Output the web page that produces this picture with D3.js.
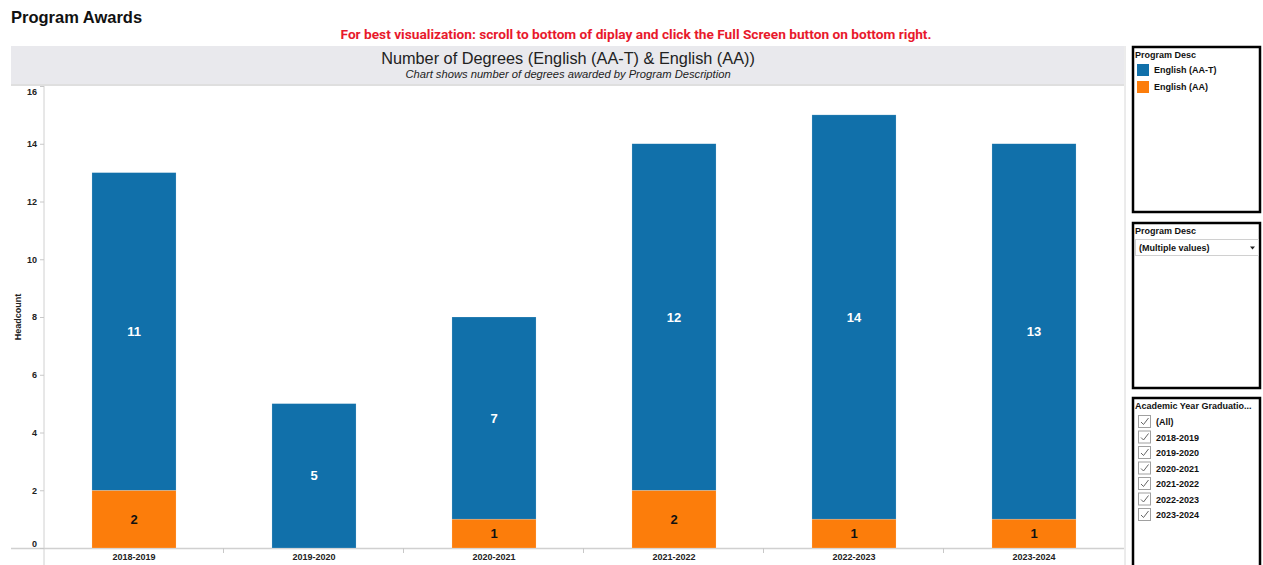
<!DOCTYPE html>
<html>
<head>
<meta charset="utf-8">
<script src="https://cdn.jsdelivr.net/npm/d3@7"></script>
<style>
  body { margin: 0; background: #fff; font-family: "Liberation Sans", Arial, sans-serif; }
  svg text { font-family: "Liberation Sans", Arial, sans-serif; }
</style>
</head>
<body>
<div id="chart"></div>
<script>
// Data
//////////////////////////////////////////////////////////////////////
const years = ["2018-2019", "2019-2020", "2020-2021", "2021-2022", "2022-2023", "2023-2024"];
const englishAAT = [11, 5, 7, 12, 14, 13];   // English (AA-T)
const englishAA = [2, 0, 1, 2, 1, 1];        // English (AA)
const seriesNames = ["English (AA-T)", "English (AA)"];
const seriesColors = ["#1170aa", "#fc7d0b"];
const yTicks = [0, 2, 4, 6, 8, 10, 12, 14, 16];
const filterItems = ["(All)"].concat(years);

// Variables
//////////////////////////////////////////////////////////////////////
const width = 1263, height = 565;
const plot = { left: 44, right: 1124, top: 86, bottom: 548 };

const svg = d3.select("#chart").append("svg")
  .attr("width", width)
  .attr("height", height);

// Header texts
svg.append("text")
  .attr("x", 11).attr("y", 23)
  .attr("font-size", 16.5).attr("font-weight", "bold").attr("fill", "#111")
  .text("Program Awards");

svg.append("text")
  .attr("x", 636).attr("y", 39)
  .attr("text-anchor", "middle")
  .attr("font-size", 13.7).attr("font-weight", "bold").attr("fill", "#e8192c")
  .style("font-family", "Roboto, sans-serif")
  .text("For best visualization: scroll to bottom of diplay and click the Full Screen button on bottom right.");

// Title band
svg.append("rect")
  .attr("x", 11).attr("y", 46).attr("width", plot.right - 11).attr("height", 38)
  .attr("fill", "#e9e9ed");
svg.append("line")
  .attr("x1", 11).attr("x2", plot.right).attr("y1", 85).attr("y2", 85)
  .attr("stroke", "#d4d4d4").attr("stroke-width", 1.5);
svg.append("text")
  .attr("x", 568).attr("y", 64)
  .attr("text-anchor", "middle").attr("font-size", 16.3).attr("fill", "#222")
  .text("Number of Degrees (English (AA-T) & English (AA))");
svg.append("text")
  .attr("x", 568).attr("y", 78)
  .attr("text-anchor", "middle").attr("font-size", 11.2).attr("font-style", "italic").attr("fill", "#222")
  .text("Chart shows number of degrees awarded by Program Description");

// Scales
//////////////////////////////////////////////////////////////////////
const x = d3.scaleBand()
  .domain(years)
  .range([plot.left, plot.right])
  .paddingInner(0.533)
  .paddingOuter(0.2665);

const y = d3.scaleLinear()
  .domain([0, 16])
  .range([plot.bottom, plot.top]);

const table = years.map((yr, i) => ({ year: yr, "English (AA-T)": englishAAT[i], "English (AA)": englishAA[i] }));
const stacked = d3.stack().keys(["English (AA)", "English (AA-T)"])(table);
const color = d3.scaleOrdinal(seriesNames, seriesColors);

// Axes lines
//////////////////////////////////////////////////////////////////////
svg.append("line")
  .attr("x1", plot.left).attr("x2", plot.left).attr("y1", plot.top).attr("y2", height)
  .attr("stroke", "#d0d0d0");
svg.append("line")
  .attr("x1", 11).attr("x2", plot.right).attr("y1", plot.bottom + 0.5).attr("y2", plot.bottom + 0.5)
  .attr("stroke", "#d0d0d0").attr("stroke-width", 1.5);
svg.append("line")
  .attr("x1", plot.right + 1).attr("x2", plot.right + 1).attr("y1", 46).attr("y2", height)
  .attr("stroke", "#d8d8d8");

// Y axis
const yAxis = svg.append("g")
  .attr("transform", `translate(${plot.left},0)`)
  .call(d3.axisLeft(y).tickValues(yTicks).tickSize(4).tickFormat(d3.format("d")));
yAxis.select(".domain").remove();
yAxis.selectAll(".tick line").attr("stroke", "#c8c8c8");
yAxis.selectAll(".tick text")
  .attr("x", -7)
  .attr("font-size", 9).attr("font-weight", "bold").attr("fill", "#222")
  .attr("font-family", "Liberation Sans, Arial, sans-serif")
  .attr("dy", d => d === 16 ? "0.95em" : d === 0 ? "-0.2em" : "0.32em");

svg.append("text")
  .attr("transform", `translate(21,${(plot.top + plot.bottom) / 2}) rotate(-90)`)
  .attr("text-anchor", "middle").attr("font-size", 9).attr("font-weight", "bold").attr("fill", "#222")
  .text("Headcount");

// X axis
const xAxis = svg.append("g")
  .attr("transform", `translate(0,${plot.bottom})`)
  .call(d3.axisBottom(x).tickSize(0));
xAxis.select(".domain").remove();
xAxis.selectAll(".tick text")
  .attr("y", 5).attr("dy", "0.75em")
  .attr("font-size", 9).attr("font-weight", "bold").attr("fill", "#222")
  .attr("font-family", "Liberation Sans, Arial, sans-serif");
// band separators
svg.append("g")
  .selectAll("line")
  .data(years.slice(1))
  .join("line")
  .attr("x1", d => x(d) - x.step() * x.paddingInner() / 2 - 0.5)
  .attr("x2", d => x(d) - x.step() * x.paddingInner() / 2 - 0.5)
  .attr("y1", plot.bottom).attr("y2", plot.bottom + 5)
  .attr("stroke", "#c8c8c8");

// Bars
//////////////////////////////////////////////////////////////////////
const layers = svg.append("g")
  .selectAll("g")
  .data(stacked)
  .join("g")
  .attr("fill", d => color(d.key));

layers.selectAll("rect")
  .data(d => d.map(v => Object.assign(v, { key: d.key })))
  .join("rect")
  .attr("x", d => x(d.data.year))
  .attr("width", x.bandwidth())
  .attr("y", d => y(d[1]))
  .attr("height", d => y(d[0]) - y(d[1]))
  .attr("stroke", "#fff").attr("stroke-opacity", 0.35).attr("stroke-width", 0.5);

// Bar labels
layers.selectAll("text")
  .data(d => d.filter(v => v[1] - v[0] > 0))
  .join("text")
  .attr("x", d => x(d.data.year) + x.bandwidth() / 2)
  .attr("y", d => y((d[0] + d[1]) / 2))
  .attr("dy", "0.36em")
  .attr("text-anchor", "middle")
  .attr("font-size", 13).attr("font-weight", "bold")
  .attr("fill", d => d.key === "English (AA-T)" ? "#fff" : "#111")
  .text(d => d[1] - d[0]);

// Right side panels
//////////////////////////////////////////////////////////////////////
function panel(y0, y1, title) {
  const g = svg.append("g");
  g.append("rect")
    .attr("x", 1133).attr("y", y0).attr("width", 127).attr("height", y1 - y0)
    .attr("fill", "#fff").attr("stroke", "#000").attr("stroke-width", 2.5);
  g.append("text")
    .attr("x", 1135).attr("y", y0 + 11)
    .attr("font-size", 9).attr("font-weight", "bold").attr("fill", "#111")
    .text(title);
  return g;
}

// Legend
const legend = panel(47, 212, "Program Desc");
legend.selectAll("g")
  .data(seriesNames)
  .join("g")
  .attr("transform", (d, i) => `translate(1137,${64 + i * 17})`)
  .call(g => g.append("rect").attr("width", 12).attr("height", 12).attr("fill", d => color(d)))
  .call(g => g.append("text")
    .attr("x", 17).attr("y", 6).attr("dy", "0.35em")
    .attr("font-size", 9).attr("font-weight", "bold").attr("fill", "#111")
    .text(d => d));

// Dropdown filter
const drop = panel(223, 388, "Program Desc");
drop.append("rect")
  .attr("x", 1135.5).attr("y", 239.5).attr("width", 123).attr("height", 16)
  .attr("fill", "#fff").attr("stroke", "#d0d0d0");
drop.append("text")
  .attr("x", 1139).attr("y", 248).attr("dy", "0.35em")
  .attr("font-size", 9).attr("font-weight", "bold").attr("fill", "#111")
  .text("(Multiple values)");
drop.append("path")
  .attr("d", "M1250,246.5h5l-2.5,3z")
  .attr("fill", "#222");

// Checkbox filter
const checks = panel(398, 570, "Academic Year Graduatio...");
const rows = checks.selectAll("g")
  .data(filterItems)
  .join("g")
  .attr("transform", (d, i) => `translate(1138,${415 + i * 15.5})`);
rows.append("rect")
  .attr("x", 0.5).attr("y", 0.5).attr("width", 12).attr("height", 12)
  .attr("fill", "#fff").attr("stroke", "#a0a0a0");
rows.append("path")
  .attr("d", "M3,7l2.5,2.5l5,-6.5")
  .attr("fill", "none").attr("stroke", "#666").attr("stroke-width", 1);
rows.append("text")
  .attr("x", 18).attr("y", 7).attr("dy", "0.35em")
  .attr("font-size", 9).attr("font-weight", "bold").attr("fill", "#111")
  .text(d => d);
</script>
</body>
</html>
